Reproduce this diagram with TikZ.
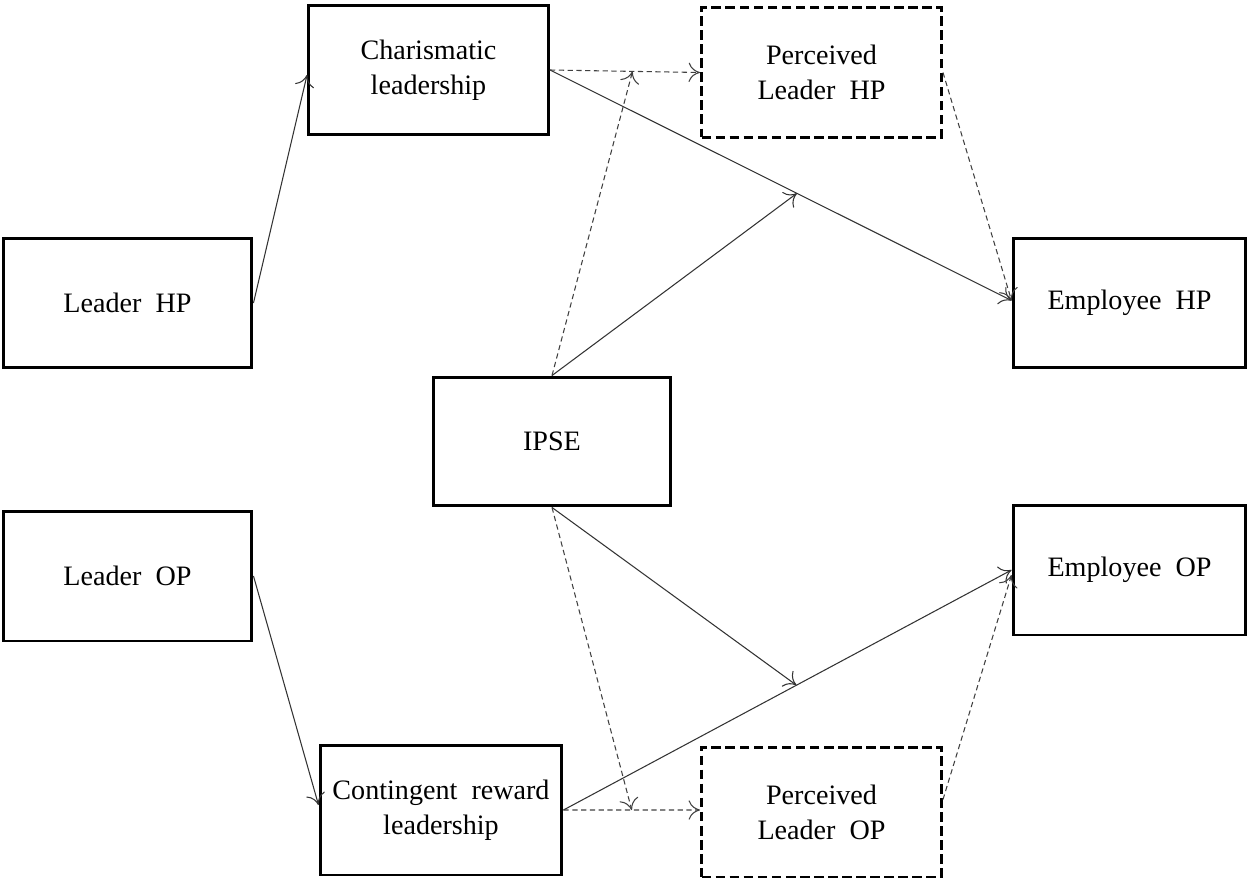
\documentclass[tikz,border=0pt]{standalone}
\usepackage{fontspec}
\setmainfont{Liberation Serif}
\usetikzlibrary{arrows.meta}
\begin{document}
\begin{tikzpicture}
		[x=0.02cm, y=-0.02cm,
		box/.style = {shape=rectangle, draw, line width=1.7pt, align=center, minimum width=4.8cm, minimum height=2.6cm, font=\fontsize{16}{20}\selectfont},
		dbox/.style = {box, dash pattern=on 5.5pt off 2.5pt},
		conn/.style = {-{To[length=6.5pt,width=11pt]}, line width=0.6pt, draw=black!80},
		dconn/.style = {conn, draw=black!75, dash pattern=on 3pt off 2pt}]
	\useasboundingbox (0,0) rectangle (1248,879);
	% nodes
	\node[box, name=ch] at (428.5,70) {Charismatic\\leadership};
	\node[dbox, name=phl] at (821.5,72.5) {Perceived\\Leader\ \ HP};
	\node[box, name=lhp, minimum width=4.98cm] at (127.5,303) {Leader\ \ HP};
	\node[box, name=ehp, minimum width=4.66cm] at (1129.5,303) {Employee\ \ HP};
	\node[box, name=ipse, minimum width=4.76cm, minimum height=2.58cm] at (552,441.5) {IPSE};
	\node[box, name=lop, minimum width=4.98cm] at (127.5,576) {Leader\ \ OP};
	\node[box, name=eop, minimum width=4.66cm] at (1129.5,570) {Employee\ \ OP};
	\node[box, name=con, minimum width=4.84cm] at (441,810) {Contingent\ \ reward\\leadership};
	\node[dbox, name=pol] at (821.5,812) {Perceived\\Leader\ \ OP};
	% upper paths
	\draw[conn] (lhp.east) -- ([yshift=-0.1cm]ch.west);
	\draw[conn] (ch.east) -- coordinate[pos=0.535] (m1) ([yshift=0.05cm]ehp.west);
	\draw[dconn] (ch.east) -- coordinate[pos=0.55] (m2) (phl.west);
	\draw[conn] (ipse.north) -- (m1);
	\draw[dconn] (ipse.north) -- (m2);
	\draw[dconn] (phl.east) -- ([yshift=0.05cm]ehp.west);
	% lower paths
	\draw[conn] (lop.east) -- ([yshift=0.1cm]con.west);
	\draw[conn] (con.east) -- coordinate[pos=0.52] (m3) (eop.west);
	\draw[dconn] (con.east) -- coordinate[pos=0.5] (m4) ([yshift=0.04cm]pol.west);
	\draw[conn] (ipse.south) -- (m3);
	\draw[dconn] (ipse.south) -- (m4);
	\draw[dconn] ([yshift=0.25cm]pol.east) -- ([yshift=-0.1cm]eop.west);
\end{tikzpicture}
\end{document}
